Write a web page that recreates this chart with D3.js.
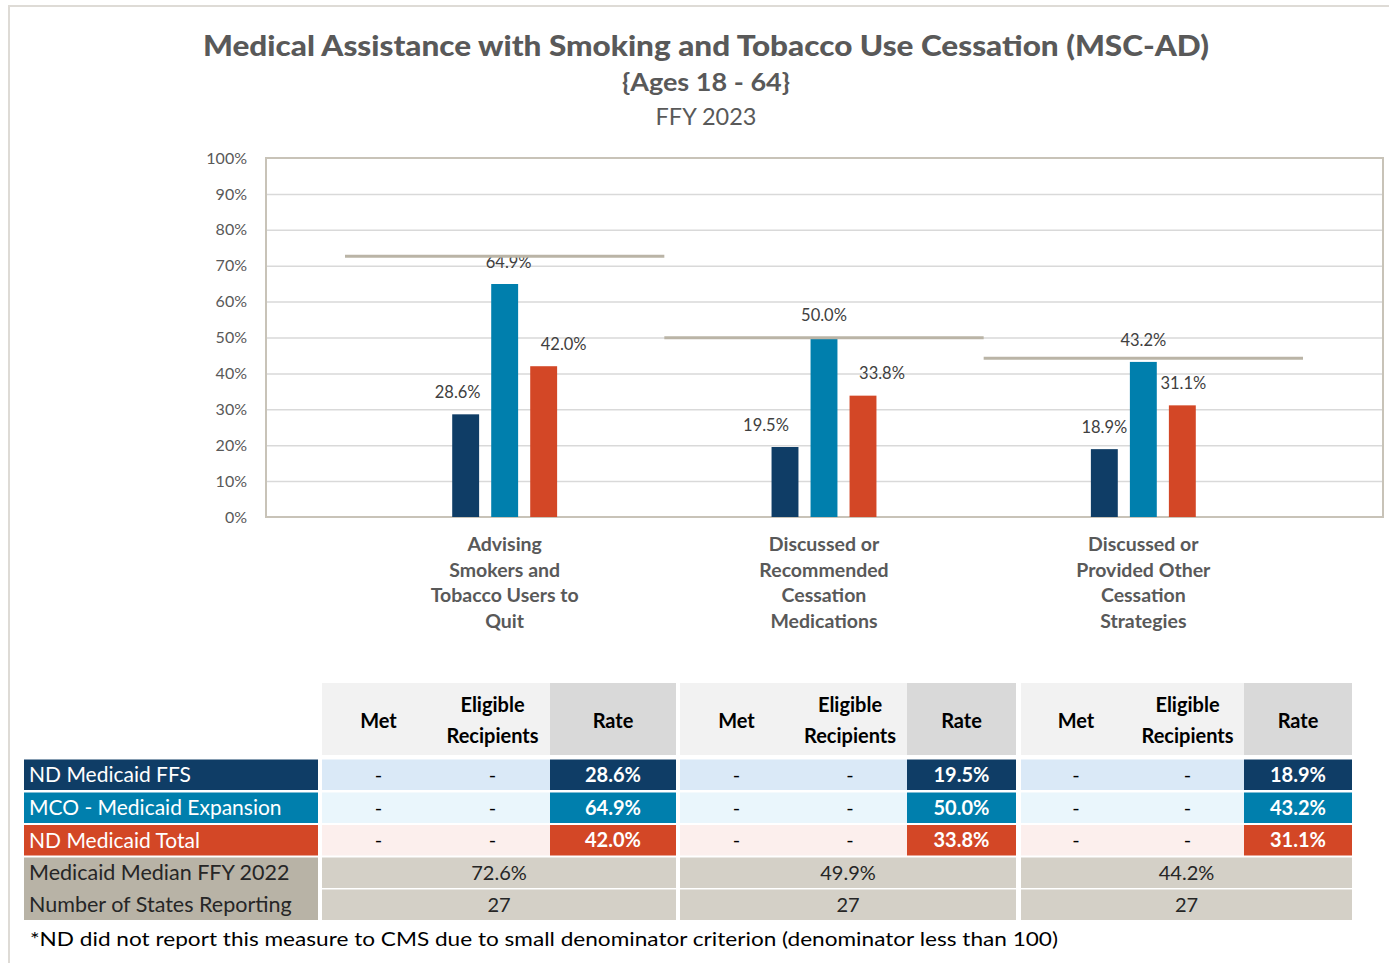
<!DOCTYPE html>
<html>
<head>
<meta charset="utf-8">
<script src="https://cdn.jsdelivr.net/npm/d3@7"></script>
<style>
  body { margin: 0; background: #fff; }
  svg { display: block; }
  text { font-family: Lato, "Noto Sans", sans-serif; }
</style>
</head>
<body>
<div id="chart"></div>
<script>
// ---- data ----
const categories = [
    ['Advising', 'Smokers and', 'Tobacco Users to', 'Quit'],
    ['Discussed or', 'Recommended', 'Cessation', 'Medications'],
    ['Discussed or', 'Provided Other', 'Cessation', 'Strategies']
];
const seriesNames = ['ND Medicaid FFS', 'MCO - Medicaid Expansion', 'ND Medicaid Total'];
const ffsRates = [28.6, 19.5, 18.9];
const mcoRates = [64.9, 50.0, 43.2];
const totalRates = [42.0, 33.8, 31.1];
const median2022 = [72.6, 49.9, 44.2];
const statesReporting = [27, 27, 27];
const metValues = ['-', '-', '-'];
const eligibleValues = ['-', '-', '-'];
const yTicks = [0, 10, 20, 30, 40, 50, 60, 70, 80, 90, 100];

// label nudges (Excel labels were dragged by hand)
const labelShift = [
    [-8, 4, 20],
    [-19, 0, 19],
    [0, 0, 1]
];

const colors = ['#0f3d66', '#007fad', '#d34726'];
const rowTints = ['#dae9f7', '#eaf6fc', '#fcefed'];
const textGray = '#595959';

const W = 1389, H = 963;
const svg = d3.select('#chart').append('svg').attr('width', W).attr('height', H);

// outer frame
svg.append('rect').attr('x', 9).attr('y', 6).attr('width', W).attr('height', H)
    .attr('fill', 'none').attr('stroke', '#dedbd6').attr('stroke-width', 2);

// titles
svg.append('text').attr('x', 706).attr('y', 56).attr('text-anchor', 'middle')
    .attr('font-size', 28).attr('font-weight', 900).attr('fill', textGray)
    .attr('textLength', 1006).attr('lengthAdjust', 'spacingAndGlyphs')
    .text('Medical Assistance with Smoking and Tobacco Use Cessation (MSC-AD)');
svg.append('text').attr('x', 706).attr('y', 91).attr('text-anchor', 'middle')
    .attr('font-size', 24).attr('font-weight', 'bold').attr('fill', textGray)
    .attr('textLength', 168).attr('lengthAdjust', 'spacingAndGlyphs')
    .text('{Ages 18 - 64}');
svg.append('text').attr('x', 706).attr('y', 125).attr('text-anchor', 'middle')
    .attr('font-size', 23.5).attr('fill', textGray)
    .text('FFY 2023');

// ---- chart ----
const plot = {left: 266, right: 1383, top: 158, bottom: 517};
const catIdx = categories.map((d, i) => i);

const y = d3.scaleLinear().domain([0, 100]).range([plot.bottom, plot.top]);
const x0 = d3.scaleBand().domain(catIdx).range([345, 1303]);
const x1 = d3.scaleBand().domain(seriesNames).range([0, 117])
    .paddingInner(0.31).paddingOuter(0.155);

const series = [ffsRates, mcoRates, totalRates];

// gridlines
svg.append('g')
    .attr('transform', `translate(${plot.left},0)`)
    .call(d3.axisLeft(y).tickValues(yTicks.slice(1, -1)).tickSize(-(plot.right - plot.left)).tickFormat(''))
    .call(g => g.select('.domain').remove())
    .selectAll('line').attr('stroke', '#d9d9d9').attr('stroke-width', 1.5);

// plot border
svg.append('rect')
    .attr('x', plot.left).attr('y', plot.top)
    .attr('width', plot.right - plot.left).attr('height', plot.bottom - plot.top)
    .attr('fill', 'none').attr('stroke', '#c8c3b8').attr('stroke-width', 2);

// y tick labels
const yAxis = svg.append('g')
    .attr('transform', `translate(${plot.left},0)`)
    .call(d3.axisLeft(y).tickValues(yTicks).tickSize(0).tickPadding(19).tickFormat(d => d + '%'));
yAxis.select('.domain').remove();
yAxis.selectAll('text').attr('font-size', 16).attr('fill', textGray)
    .style('font-family', 'Lato, sans-serif');

// bars
const groups = svg.append('g').selectAll('g')
    .data(catIdx).join('g')
    .attr('transform', i => `translate(${x0(i) + x0.bandwidth() / 2 - 58.5},0)`);

groups.selectAll('rect')
    .data(i => series.map((s, k) => ({cat: i, k, v: s[i]})))
    .join('rect')
    .attr('x', d => x1(seriesNames[d.k]))
    .attr('y', d => y(d.v))
    .attr('width', x1.bandwidth())
    .attr('height', d => y(0) - y(d.v))
    .attr('fill', d => colors[d.k]);

// median lines
svg.append('g').selectAll('line')
    .data(catIdx).join('line')
    .attr('x1', i => x0(i)).attr('x2', i => x0(i) + x0.bandwidth())
    .attr('y1', i => y(median2022[i])).attr('y2', i => y(median2022[i]))
    .attr('stroke', '#bab4a6').attr('stroke-width', 3);

// value labels
groups.selectAll('text.value')
    .data(i => series.map((s, k) => ({cat: i, k, v: s[i]})))
    .join('text')
    .attr('class', 'value')
    .attr('x', d => x1(seriesNames[d.k]) + x1.bandwidth() / 2 + labelShift[d.cat][d.k])
    .attr('y', d => y(d.v) - 22)
    .attr('dy', '0.35em')
    .attr('text-anchor', 'middle')
    .attr('font-size', 16.5).attr('fill', '#404040')
    .text(d => d.v.toFixed(1) + '%');

// category labels
svg.append('g').selectAll('text')
    .data(catIdx).join('text')
    .attr('text-anchor', 'middle')
    .attr('font-size', 19.5).attr('font-weight', 'bold').attr('fill', textGray)
    .each(function(i) {
        d3.select(this).selectAll('tspan')
            .data(categories[i]).join('tspan')
            .attr('x', x0(i) + x0.bandwidth() / 2)
            .attr('y', (d, j) => 551 + j * 25.7)
            .text(d => d);
    });

// ---- table ----
const table = svg.append('g');
const labelCol = {x: 24, w: 294};
const groupCols = [
    {met: [322, 435], elig: [435, 550], rate: [550, 676]},
    {met: [680, 793], elig: [793, 907], rate: [907, 1016]},
    {met: [1021, 1131], elig: [1131, 1244], rate: [1244, 1352]}
];
const header = {top: 683, bottom: 755};
const rowTops = [759.5, 792.5, 825, 857.5, 889.5];
const rowH = 30.5;

const cellText = (x, yy, txt, opts = {}) => table.append('text')
    .attr('x', x).attr('y', yy).attr('dy', '0.35em')
    .attr('text-anchor', opts.anchor || 'middle')
    .attr('font-size', opts.size || 20)
    .attr('font-weight', opts.bold ? 'bold' : 'normal')
    .attr('fill', opts.fill || '#000')
    .text(txt);

groupCols.forEach((g, i) => {
    // header
    table.append('rect').attr('x', g.met[0]).attr('y', header.top)
        .attr('width', g.elig[1] - g.met[0]).attr('height', header.bottom - header.top).attr('fill', '#f2f2f2');
    table.append('rect').attr('x', g.rate[0]).attr('y', header.top)
        .attr('width', g.rate[1] - g.rate[0]).attr('height', header.bottom - header.top).attr('fill', '#d9d9d9');
    cellText((g.met[0] + g.met[1]) / 2, 721, 'Met', {bold: true});
    cellText((g.elig[0] + g.elig[1]) / 2, 705, 'Eligible', {bold: true});
    cellText((g.elig[0] + g.elig[1]) / 2, 736, 'Recipients', {bold: true});
    cellText((g.rate[0] + g.rate[1]) / 2, 721, 'Rate', {bold: true});

    // series rows
    series.forEach((s, k) => {
        const top = rowTops[k];
        table.append('rect').attr('x', g.met[0]).attr('y', top)
            .attr('width', g.elig[1] - g.met[0]).attr('height', rowH).attr('fill', rowTints[k]);
        table.append('rect').attr('x', g.rate[0]).attr('y', top)
            .attr('width', g.rate[1] - g.rate[0]).attr('height', rowH).attr('fill', colors[k]);
        cellText((g.met[0] + g.met[1]) / 2, top + rowH / 2, metValues[i]);
        cellText((g.elig[0] + g.elig[1]) / 2, top + rowH / 2, eligibleValues[i]);
        cellText((g.rate[0] + g.rate[1]) / 2, top + rowH / 2, s[i].toFixed(1) + '%', {bold: true, fill: '#fff'});
    });

    // median + states rows
    [median2022[i].toFixed(1) + '%', String(statesReporting[i])].forEach((v, r) => {
        const top = rowTops[3 + r];
        table.append('rect').attr('x', g.met[0]).attr('y', top)
            .attr('width', g.rate[1] - g.met[0]).attr('height', rowH).attr('fill', '#d4d0c7');
        cellText((g.met[0] + g.rate[1]) / 2, top + rowH / 2, v, {fill: '#262626'});
    });
});

// row labels
seriesNames.forEach((name, k) => {
    table.append('rect').attr('x', labelCol.x).attr('y', rowTops[k])
        .attr('width', labelCol.w).attr('height', rowH).attr('fill', colors[k]);
    cellText(labelCol.x + 5, rowTops[k] + rowH / 2, name, {anchor: 'start', size: 21, fill: '#fff'});
});
table.append('rect').attr('x', labelCol.x).attr('y', rowTops[3])
    .attr('width', labelCol.w).attr('height', rowTops[4] + rowH - rowTops[3]).attr('fill', '#b8b3a6');
cellText(labelCol.x + 5, rowTops[3] + rowH / 2, 'Medicaid Median FFY 2022', {anchor: 'start', size: 21.5, fill: '#262626'});
cellText(labelCol.x + 5, rowTops[4] + rowH / 2, 'Number of States Reporting', {anchor: 'start', size: 21.5, fill: '#262626'});

// footnote
svg.append('text').attr('x', 30).attr('y', 939).attr('dy', '0.35em')
    .attr('font-size', 20).attr('fill', '#000')
    .attr('textLength', 1028).attr('lengthAdjust', 'spacingAndGlyphs')
    .text('*ND did not report this measure to CMS due to small denominator criterion (denominator less than 100)');
</script>
</body>
</html>
